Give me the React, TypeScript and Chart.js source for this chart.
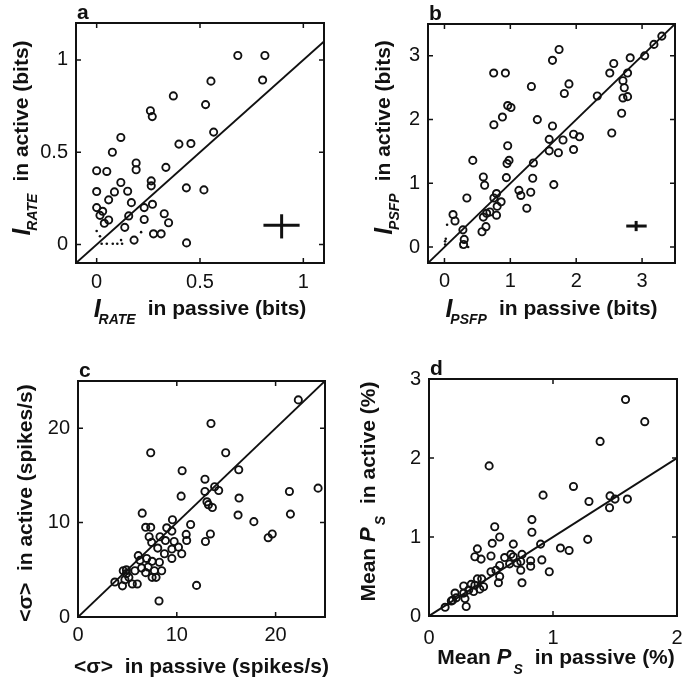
import React, { useEffect, useRef } from 'react';
import { Chart, registerables } from 'chart.js';

Chart.register(...registerables);

// ---------- Panel a : I_RATE ----------
const aPassive = [0.683, 0.814, 0.803, 0.553, 0.371, 0.527, 0.26, 0.269, 0.566, 0.117, 0.398, 0.456, 0.076, 0.191, 0.191, 0.335, 0, 0.049, 0.117, 0.264, 0.264, 0.434, 0.519, 0, 0.086, 0.15, 0.058, 0.168, 0.27, 0.23, 0, 0.029, 0.016, 0.155, 0.327, 0.23, 0.058, 0.037, 0.348, 0.136, 0.275, 0.312, 0.181, 0.435];
const aActive = [1.024, 1.024, 0.891, 0.885, 0.805, 0.758, 0.725, 0.693, 0.609, 0.58, 0.544, 0.547, 0.5, 0.442, 0.405, 0.418, 0.4, 0.396, 0.336, 0.345, 0.318, 0.307, 0.296, 0.287, 0.285, 0.289, 0.242, 0.227, 0.218, 0.2, 0.2, 0.18, 0.158, 0.155, 0.167, 0.136, 0.133, 0.115, 0.118, 0.093, 0.058, 0.058, 0.024, 0.009];
const aDotPassive = [0, 0.016, 0.024, 0.049, 0.078, 0.1, 0.118, 0.123, 0.215];
const aDotActive = [0.073, 0.045, 0.004, 0.004, 0.004, 0.004, 0.024, 0.004, 0.067];
const aErrX = [0.807, 0.982];
const aErrY = [0.033, 0.164];
const aErrCenter = [0.895, 0.104];
const aTicksX = [0, 0.5, 1];
const aTicksY = [0, 0.5, 1];

// ---------- Panel b : I_PSFP ----------
const bPassive = [3.3, 3.18, 3.04, 2.82, 1.74, 1.64, 2.57, 2.51, 2.78, 0.747, 0.925, 1.32, 1.89, 1.82, 2.32, 2.71, 2.73, 2.78, 2.71, 2.69, 2.54, 0.96, 1.01, 0.88, 0.75, 1.41, 1.64, 1.59, 1.8, 1.96, 2.05, 1.59, 1.73, 1.96, 0.96, 0.95, 0.98, 1.35, 0.43, 0.59, 0.61, 0.94, 1.34, 1.66, 0.34, 0.75, 0.79, 1.13, 1.16, 1.31, 0.86, 0.8, 0.64, 0.69, 0.79, 0.59, 1.25, 0.13, 0.16, 0.28, 0.63, 0.57, 0.3, 0.29];
const bActive = [3.31, 3.18, 3.0, 2.97, 3.1, 2.93, 2.88, 2.73, 2.73, 2.73, 2.73, 2.52, 2.56, 2.41, 2.37, 2.61, 2.5, 2.36, 2.34, 2.1, 1.79, 2.22, 2.19, 2.04, 1.92, 2.0, 1.9, 1.69, 1.68, 1.77, 1.73, 1.51, 1.48, 1.53, 1.59, 1.31, 1.36, 1.32, 1.36, 1.1, 0.97, 1.09, 1.08, 0.98, 0.77, 0.77, 0.84, 0.89, 0.81, 0.86, 0.71, 0.64, 0.53, 0.55, 0.5, 0.47, 0.61, 0.51, 0.41, 0.27, 0.32, 0.24, 0.12, 0.04];
const bDotPassive = [0.04, 0.01, 0.01, 0.02, 0.25, 0.36];
const bDotActive = [0.35, 0.04, 0.09, 0.13, 0.0, 0.0];
const bErrX = [2.76, 3.07];
const bErrY = [0.25, 0.41];
const bErrCenter = [2.91, 0.33];
const bTicksX = [0, 1, 2, 3];
const bTicksY = [0, 1, 2, 3];

// ---------- Panel c : <sigma> ----------
const cPassive = [22.3, 13.46, 7.36, 14.95, 10.54, 16.27, 12.85, 12.85, 13.83, 14.24, 24.3, 21.4, 16.3, 10.44, 13.05, 13.2, 13.6, 6.5, 16.2, 21.5, 17.8, 9.56, 11.4, 6.85, 7.36, 8.98, 9.5, 13.4, 19.66, 19.25, 10.95, 11.0, 12.9, 7.2, 7.46, 8.3, 8.85, 9.73, 8.07, 8.75, 9.5, 10.17, 10.5, 9.5, 6.1, 6.27, 7.5, 8.24, 5.76, 6.44, 6.95, 7.1, 7.73, 8.47, 4.9, 4.58, 4.9, 5.15, 4.75, 3.73, 4.5, 5.5, 6.0, 7.5, 7.9, 6.85, 12.0, 8.2];
const cActive = [23.0, 20.5, 17.4, 17.4, 15.5, 15.6, 14.6, 13.3, 13.8, 13.4, 13.65, 13.3, 12.6, 12.8, 12.2, 11.9, 11.6, 11.0, 10.8, 10.9, 10.1, 10.3, 9.8, 9.5, 9.5, 9.45, 9.1, 8.8, 8.8, 8.4, 8.75, 8.1, 8.0, 8.5, 7.9, 8.5, 8.1, 8.0, 7.3, 6.7, 7.2, 7.4, 6.7, 6.2, 6.5, 6.0, 5.9, 5.8, 4.9, 5.2, 6.2, 5.3, 4.9, 4.9, 5.0, 4.9, 4.6, 4.2, 3.95, 3.7, 3.3, 3.5, 3.5, 4.2, 4.2, 4.7, 3.35, 1.7];
const cTicksX = [0, 10, 20];
const cTicksY = [0, 10, 20];

// ---------- Panel d : Mean P_S ----------
const dPassive = [1.585, 1.74, 1.38, 0.485, 1.165, 0.92, 1.29, 1.46, 1.5, 1.6, 1.456, 0.83, 0.83, 0.53, 0.57, 0.51, 0.68, 0.9, 1.28, 1.06, 1.13, 0.39, 0.37, 0.42, 0.5, 0.61, 0.66, 0.68, 0.75, 0.65, 0.71, 0.74, 0.82, 0.82, 0.74, 0.91, 0.97, 0.75, 0.5, 0.54, 0.57, 0.57, 0.56, 0.39, 0.425, 0.44, 0.41, 0.37, 0.34, 0.28, 0.32, 0.36, 0.21, 0.28, 0.29, 0.22, 0.3, 0.19, 0.13, 0.18];
const dActive = [2.74, 2.46, 2.21, 1.9, 1.64, 1.53, 1.45, 1.52, 1.48, 1.48, 1.37, 1.22, 1.06, 1.13, 1.0, 0.92, 0.91, 0.91, 0.97, 0.86, 0.83, 0.85, 0.75, 0.72, 0.76, 0.74, 0.78, 0.75, 0.78, 0.66, 0.67, 0.69, 0.7, 0.63, 0.58, 0.71, 0.56, 0.42, 0.56, 0.58, 0.64, 0.5, 0.42, 0.47, 0.47, 0.37, 0.34, 0.39, 0.4, 0.38, 0.33, 0.31, 0.29, 0.29, 0.22, 0.23, 0.12, 0.2, 0.11, 0.19];
const dTicksX = [0, 1, 2];
const dTicksY = [0, 1, 2, 3];

const FF = '"Liberation Sans", Arial, Helvetica, sans-serif';
const FONTS: Record<string, string> = {
  main: `bold 21px ${FF}`,
  ital: `italic bold 25px ${FF}`,
  italP: `italic bold 22px ${FF}`,
  sub: `italic bold 14px ${FF}`,
  letter: `bold 21px ${FF}`,
};

type Seg = { t: string; f: string; dx?: number; dy?: number };

type Panel = {
  letter: string;
  left: number; top: number; w: number; h: number;
  frame: { l: number; r: number; t: number; b: number };
  xr: [number, number]; yr: [number, number];
  xTicks: number[]; yTicks: number[];
  xPad: number;
  passive: number[]; active: number[];
  dotP?: number[]; dotA?: number[];
  errX?: number[]; errY?: number[]; errC?: number[];
  xTitle: Seg[]; yTitle: Seg[];
  xTitleOff: number; yTitleOff: number; xShift: number; yShift: number;
};

const irate = (word: string, sym: string): Seg[] => [
  { t: 'I', f: 'ital', dy: 2 },
  { t: sym, f: 'sub', dx: -2, dy: 9 },
  { t: word, f: 'main', dx: 12 },
];
const meanPs = (word: string): Seg[] => [
  { t: 'Mean ', f: 'main' },
  { t: 'P', f: 'italP' },
  { t: 'S', f: 'sub', dx: 2, dy: 10 },
  { t: word, f: 'main', dx: 12 },
];

const panels: Panel[] = [
  {
    letter: 'a', left: 0, top: 0, w: 343, h: 345,
    frame: { l: 76, r: 324, t: 23, b: 263 },
    xr: [-0.1, 1.1], yr: [-0.1, 1.2], xTicks: aTicksX, yTicks: aTicksY, xPad: 7,
    passive: aPassive, active: aActive, dotP: aDotPassive, dotA: aDotActive,
    errX: aErrX, errY: aErrY, errC: aErrCenter,
    xTitle: irate('in passive (bits)', 'RATE'), yTitle: irate('in active (bits)', 'RATE'),
    xTitleOff: 52, yTitleOff: 48, xShift: 0, yShift: -5,
  },
  {
    letter: 'b', left: 343, top: 0, w: 344, h: 345,
    frame: { l: 428, r: 675, t: 24, b: 263 },
    xr: [-0.25, 3.5], yr: [-0.25, 3.5], xTicks: bTicksX, yTicks: bTicksY, xPad: 6,
    passive: bPassive, active: bActive, dotP: bDotPassive, dotA: bDotActive,
    errX: bErrX, errY: bErrY, errC: bErrCenter,
    xTitle: irate('in passive (bits)', 'PSFP'), yTitle: irate('in active (bits)', 'PSFP'),
    xTitleOff: 52, yTitleOff: 38, xShift: 0, yShift: -6,
  },
  {
    letter: 'c', left: 0, top: 345, w: 343, h: 346,
    frame: { l: 78, r: 325, t: 381, b: 617 },
    xr: [0, 25], yr: [0, 25], xTicks: cTicksX, yTicks: cTicksY, xPad: 6,
    passive: cPassive, active: cActive,
    xTitle: [{ t: '<σ>  in passive (spikes/s)', f: 'main' }],
    yTitle: [{ t: '<σ>  in active (spikes/s)', f: 'main' }],
    xTitleOff: 56, yTitleOff: 46, xShift: 0, yShift: 4,
  },
  {
    letter: 'd', left: 343, top: 345, w: 344, h: 346,
    frame: { l: 429, r: 677, t: 379, b: 616 },
    xr: [0, 2], yr: [0, 3], xTicks: dTicksX, yTicks: dTicksY, xPad: 10,
    passive: dPassive, active: dActive,
    xTitle: meanPs('in passive (%)'), yTitle: meanPs('in active (%)'),
    xTitleOff: 48, yTitleOff: 54, xShift: 3, yShift: -6,
  },
];

function drawRich(ctx: CanvasRenderingContext2D, segs: Seg[], cx: number, by: number) {
  const widths: number[] = [];
  let total = 0;
  segs.forEach((s) => {
    ctx.font = FONTS[s.f];
    const w = ctx.measureText(s.t).width;
    widths.push(w);
    total += (s.dx || 0) + w;
  });
  let x = cx - total / 2;
  segs.forEach((s, i) => {
    x += s.dx || 0;
    ctx.font = FONTS[s.f];
    ctx.fillText(s.t, x, by + (s.dy || 0));
    x += widths[i];
  });
}

function PanelChart({ p }: { p: Panel }) {
  const ref = useRef<HTMLCanvasElement | null>(null);
  useEffect(() => {
    if (!ref.current) return;
    const Wy = p.frame.l - p.left;
    const Hx = 40;
    const padR = p.w - (p.frame.r - p.left);
    const padT = p.frame.t - p.top;
    const padB = p.h - Hx - (p.frame.b - p.top);
    const ink = '#111111';

    const datasets: any[] = [];
    // identity (diagonal) line across the whole frame
    datasets.push({
      data: [{ x: p.xr[0], y: p.xr[0] }, { x: p.xr[1], y: p.xr[1] }],
      showLine: true, borderColor: ink, borderWidth: 1.9, pointRadius: 0,
    });
    datasets.push({
      data: p.passive.map((x, i) => ({ x, y: p.active[i] })),
      pointStyle: 'circle', pointRadius: 3.6, pointHoverRadius: 3.6,
      borderColor: ink, pointBorderWidth: 1.9, backgroundColor: 'rgba(0,0,0,0)',
    });
    if (p.dotP && p.dotA) {
      datasets.push({
        data: p.dotP.map((x, i) => ({ x, y: p.dotA![i] })),
        pointRadius: 1.3, pointHoverRadius: 1.3, borderWidth: 0, backgroundColor: ink,
      });
    }
    if (p.errX && p.errY && p.errC) {
      datasets.push({
        data: [{ x: p.errX[0], y: p.errC[1] }, { x: p.errX[1], y: p.errC[1] }],
        showLine: true, borderColor: ink, borderWidth: 3, pointRadius: 0,
      });
      datasets.push({
        data: [{ x: p.errC[0], y: p.errY[0] }, { x: p.errC[0], y: p.errY[1] }],
        showLine: true, borderColor: ink, borderWidth: 3, pointRadius: 0,
      });
    }

    const tickFont = { family: FF, size: 20, weight: 'normal' as const };

    const framePlugin = {
      id: 'framePlugin',
      afterDraw(chart: any) {
        const { ctx, chartArea: ca, scales } = chart;
        ctx.save();
        ctx.strokeStyle = ink;
        ctx.lineWidth = 2;
        ctx.strokeRect(ca.left, ca.top, ca.right - ca.left, ca.bottom - ca.top);
        ctx.lineWidth = 1.5;
        const tl = 5;
        ctx.beginPath();
        p.xTicks.forEach((v) => {
          const px = scales.x.getPixelForValue(v);
          ctx.moveTo(px, ca.bottom); ctx.lineTo(px, ca.bottom - tl);
          ctx.moveTo(px, ca.top); ctx.lineTo(px, ca.top + tl);
        });
        p.yTicks.forEach((v) => {
          const py = scales.y.getPixelForValue(v);
          ctx.moveTo(ca.left, py); ctx.lineTo(ca.left + tl, py);
          ctx.moveTo(ca.right, py); ctx.lineTo(ca.right - tl, py);
        });
        ctx.stroke();

        ctx.fillStyle = ink;
        ctx.textAlign = 'left';
        ctx.textBaseline = 'alphabetic';
        ctx.font = FONTS.letter;
        ctx.fillText(p.letter, ca.left + 1, ca.top - 4);
        drawRich(ctx, p.xTitle, (ca.left + ca.right) / 2 + p.xShift, ca.bottom + p.xTitleOff);
        ctx.save();
        ctx.translate(ca.left - p.yTitleOff, (ca.top + ca.bottom) / 2 + p.yShift);
        ctx.rotate(-Math.PI / 2);
        drawRich(ctx, p.yTitle, 0, 0);
        ctx.restore();
        ctx.restore();
      },
    };

    const chart = new Chart(ref.current, {
      type: 'scatter',
      data: { datasets },
      options: {
        responsive: false,
        animation: false,
        devicePixelRatio: 1,
        events: [],
        layout: { padding: { left: 0, right: padR, top: padT, bottom: padB } },
        plugins: { legend: { display: false }, tooltip: { enabled: false } },
        scales: {
          x: {
            type: 'linear', min: p.xr[0], max: p.xr[1],
            grid: { display: false, drawTicks: false },
            border: { display: false },
            ticks: {
              font: tickFont, color: ink, padding: p.xPad, maxRotation: 0, autoSkip: false,
              callback: (v: any) => String(v),
            },
            afterBuildTicks: (s: any) => { s.ticks = p.xTicks.map((v) => ({ value: v })); },
            afterFit: (s: any) => { s.height = Hx; s.paddingLeft = 0; s.paddingRight = 0; },
          },
          y: {
            type: 'linear', min: p.yr[0], max: p.yr[1],
            grid: { display: false, drawTicks: false },
            border: { display: false },
            ticks: {
              font: tickFont, color: ink, padding: 8, autoSkip: false,
              callback: (v: any) => String(v),
            },
            afterBuildTicks: (s: any) => { s.ticks = p.yTicks.map((v) => ({ value: v })); },
            afterFit: (s: any) => { s.width = Wy; s.paddingTop = 0; s.paddingBottom = 0; },
          },
        },
      } as any,
      plugins: [framePlugin],
    });
    return () => chart.destroy();
  }, [p]);
  return (
    <canvas
      ref={ref}
      width={p.w}
      height={p.h}
      style={{ position: 'absolute', left: p.left, top: p.top, width: p.w, height: p.h }}
    />
  );
}

export default function App() {
  return (
    <div style={{ position: 'fixed', left: 0, top: 0, width: 687, height: 691, background: '#fff', overflow: 'hidden' }}>
      {panels.map((p) => (
        <PanelChart key={p.letter} p={p} />
      ))}
    </div>
  );
}
